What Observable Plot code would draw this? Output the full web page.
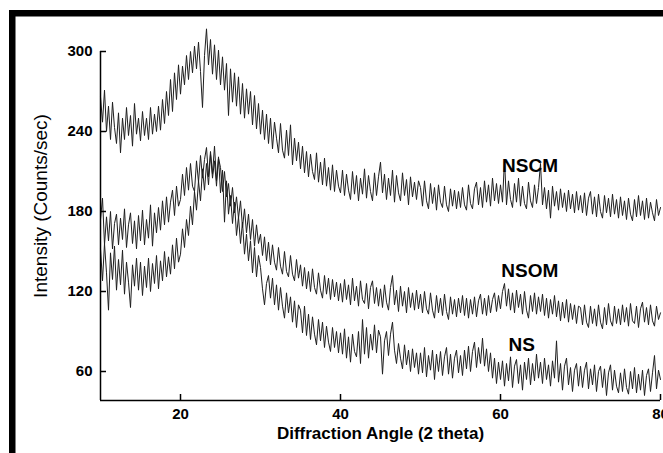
<!DOCTYPE html>
<html><head><meta charset="utf-8">
<script src="https://cdn.jsdelivr.net/npm/d3@7"></script>
<script src="https://cdn.jsdelivr.net/npm/@observablehq/plot@0.6"></script>
<style>html,body{margin:0;padding:0;background:#fff;overflow:hidden;} #chart{width:663px;height:453px;}</style>
</head><body><div id="chart"></div>
<script>
// scan grid: 2-theta from 10 to 80 degrees, 0.25 degree step
const angleStart = 10, angleStep = 0.25;

const nscm = [
266,247,271,240,259,234,262,243,231,254,224,250,234,258,237,252,229,261,238,250,
233,255,237,250,234,258,238,253,240,259,241,264,246,270,252,279,255,284,264,290,
268,289,275,297,279,300,284,304,287,307,285,258,297,317,290,309,283,305,279,301,
275,296,271,291,252,287,262,284,259,281,253,276,250,272,253,270,245,267,242,261,
238,256,234,253,231,250,227,247,235,224,246,226,220,241,222,245,215,235,218,232,
212,229,209,225,206,223,210,204,224,202,217,200,220,199,213,196,215,195,211,199,
194,211,192,208,196,189,210,193,207,188,205,193,212,190,207,195,188,209,192,206,
217,194,208,189,205,192,211,187,207,194,188,209,192,204,185,206,191,202,189,203,
198,184,203,188,182,201,186,198,181,200,187,183,199,185,180,197,184,196,182,195,
183,198,185,181,200,186,182,197,202,185,198,183,203,187,200,184,205,188,201,186,
200,187,219,185,203,189,183,201,187,205,184,199,186,182,202,188,183,200,186,198,
216,185,198,182,196,175,199,184,195,181,197,183,194,180,196,182,193,179,195,181,
192,179,194,177,190,195,178,191,176,193,180,175,192,179,190,176,193,178,189,175,
191,177,188,174,190,178,173,189,176,192,177,188,174,190,175,187,179,173,189,177,
183];

const nsom = [
174,190,155,176,158,180,152,171,178,155,175,159,182,153,170,179,156,173,152,177,
158,181,155,174,160,185,154,179,164,183,166,188,170,191,172,187,196,177,199,184,
189,208,192,213,196,216,199,195,218,202,222,205,219,228,206,225,208,229,203,220,
213,195,210,191,201,184,198,179,191,175,188,168,182,164,178,159,174,154,170,156,
163,147,161,143,157,140,155,142,136,153,139,133,150,135,131,147,133,128,144,130,
140,124,138,122,135,120,137,123,118,134,121,115,132,118,130,114,129,116,127,113,
126,112,129,114,125,110,130,113,124,109,128,114,111,126,107,123,128,111,123,109,
122,108,125,112,106,123,132,110,121,105,124,109,120,104,123,108,119,106,121,107,
118,104,120,107,103,119,106,100,117,104,115,102,118,105,99,116,103,114,101,115,
104,117,102,115,100,114,103,116,101,113,118,103,115,102,117,104,114,119,105,117,
107,120,126,109,122,106,119,104,121,108,118,103,120,106,100,117,105,119,103,116,
105,118,102,115,100,114,103,117,101,113,98,112,100,114,97,111,99,110,96,109,
108,95,110,97,93,109,96,107,94,110,97,92,108,95,111,98,94,109,96,107,
95,110,97,108,94,111,98,96,109,93,107,112,97,108,95,110,98,94,109,99,
104];

const ns = [
152,128,156,134,106,149,129,154,121,144,125,151,118,142,127,108,140,124,145,121,
142,117,139,123,145,120,141,126,147,122,143,128,150,131,146,133,155,137,160,142,
148,167,153,174,162,184,170,195,181,203,188,212,196,216,200,223,205,218,199,221,
194,211,172,203,178,192,171,187,162,176,156,172,148,163,143,158,134,153,131,147,
138,122,110,126,132,115,130,110,125,106,123,109,100,119,104,116,97,113,93,110,
106,89,109,87,103,84,101,88,80,99,83,97,78,94,82,75,93,78,90,74,
89,73,92,70,86,67,88,75,71,90,66,99,73,93,70,88,76,95,74,91,
86,58,83,90,72,88,97,76,66,81,70,62,80,65,76,60,77,63,74,58,
74,59,78,56,72,61,76,54,73,60,75,57,71,78,58,73,55,70,76,59,
72,57,76,62,79,60,75,82,63,78,66,85,64,77,60,74,55,70,51,67,
54,68,49,66,53,71,48,64,69,51,65,46,67,54,70,50,66,53,73,55,
67,51,70,54,65,49,68,55,83,52,66,46,64,70,50,63,45,61,66,49,
64,48,61,67,47,62,50,65,45,60,64,48,62,42,59,65,46,61,49,44,
59,45,62,48,43,60,47,63,44,58,46,61,42,57,62,45,59,72,47,61,
54];

const seriesNames = ["NSCM", "NSOM", "NS"];
const labelX = [60.2, 60.1, 61.0];
const labelY = [214.5, 135.75, 80.25];
const xTicks = [20, 40, 60, 80];
const yTicks = [60, 120, 180, 240, 300];
const xDomain = [10, 80];
const yDomain = [38.25, 300];
const xTitle = "Diffraction Angle (2 theta)";
const yTitle = "Intensity (Counts/sec)";

const seriesValues = [nscm, nsom, ns];
const rows = [];
seriesValues.forEach((vals, s) => {
  vals.forEach((v, i) => rows.push({series: seriesNames[s], angle: angleStart + i * angleStep, counts: v}));
});

const W = 663, H = 453, mL = 100, mR = 3, mT = 51, mB = 53;
const xPerPx = (xDomain[1] - xDomain[0]) / (W - mL - mR);
const yPerPx = (yDomain[1] - yDomain[0]) / (H - mT - mB);
const tickLen = 6;

const chart = Plot.plot({
  width: W, height: H,
  marginLeft: mL, marginRight: mR, marginTop: mT, marginBottom: mB,
  style: {fontFamily: "'Liberation Sans', Arial, sans-serif", color: "#000", background: "#fff"},
  x: {domain: xDomain, axis: null},
  y: {domain: yDomain, axis: null},
  marks: [
    Plot.line(rows, {x: "angle", y: "counts", z: "series", stroke: "#1e1e1e", strokeWidth: 1}),
    Plot.ruleX([xDomain[0]], {y1: yDomain[0], y2: yTicks[yTicks.length - 1], stroke: "#000", strokeWidth: 1.5}),
    Plot.ruleY([yDomain[0]], {x1: xDomain[0], x2: xDomain[1], stroke: "#000", strokeWidth: 1.5}),
    Plot.ruleX(xTicks, {x: d => d, y1: yDomain[0], y2: yDomain[0] + tickLen * yPerPx, stroke: "#000", strokeWidth: 1.5}),
    Plot.ruleY(yTicks, {y: d => d, x1: xDomain[0], x2: xDomain[0] + tickLen * xPerPx, stroke: "#000", strokeWidth: 1.5}),
    Plot.axisX(xTicks, {tickSize: 0, tickPadding: 8, fontSize: 15, fontWeight: "bold", label: null}),
    Plot.axisY(yTicks, {tickSize: 0, tickPadding: 8, fontSize: 15, fontWeight: "bold", label: null}),
    Plot.text([xTitle], {frameAnchor: "bottom", dy: 38, fontSize: 17, fontWeight: "bold"}),
    Plot.text([yTitle], {frameAnchor: "left", textAnchor: "middle", rotate: -90, dx: -60, dy: -20, fontSize: 19}),
    Plot.text(seriesNames, {x: (d, i) => labelX[i], y: (d, i) => labelY[i], text: d => d, textAnchor: "start", fontSize: 19, fontWeight: "bold"})
  ]
});

d3.select(chart).append("rect")
  .attr("x", 12.25).attr("y", 13.25)
  .attr("width", 800).attr("height", 600)
  .attr("fill", "none").attr("stroke", "#000").attr("stroke-width", 6.5);

document.getElementById("chart").appendChild(chart);
</script>
</body></html>
